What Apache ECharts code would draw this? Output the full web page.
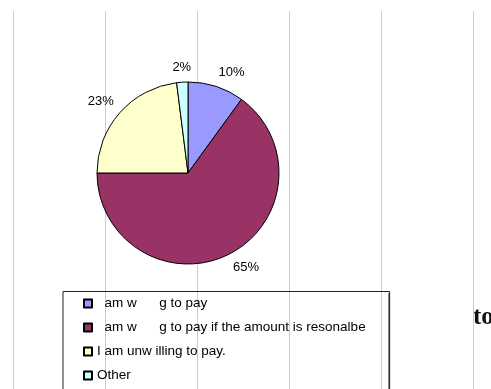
<!DOCTYPE html>
<html>
<head>
<meta charset="utf-8">
<script src="https://cdn.jsdelivr.net/npm/echarts@6/dist/echarts.min.js"></script>
<style>
  html, body { margin: 0; padding: 0; background: #fff; }
  #chart { width: 491px; height: 389px; }
</style>
</head>
<body>
<div id="chart"></div>
<script>
// Survey answers, shares in percent (clockwise from 12 o'clock)
const categories = [
  '  am w      g to pay',
  '  am w      g to pay if the amount is resonalbe',
  'I am unw illing to pay.',
  'Other'
];
const shares = [10, 65, 23, 2];
const sliceColors = ['#9999FF', '#993366', '#FFFFCC', '#CCFFFF'];

const FONT = '"Liberation Sans", Arial, sans-serif';
const CX = 188, CY = 173, R = 91;
const LABEL_R = R + 8;

// Mid angle of each slice, in radians measured clockwise from the top
const total = shares.reduce((a, b) => a + b, 0);
const midAngles = [];
let acc = 0;
shares.forEach(v => {
  midAngles.push(((acc + v / 2) / total) * Math.PI * 2);
  acc += v;
});

const chart = echarts.init(document.getElementById('chart'), null, { renderer: 'canvas' });

chart.setOption({
  animation: false,
  backgroundColor: '#ffffff',
  color: sliceColors,
  grid: { left: 13, right: 17.5, top: 11, bottom: 0 },
  xAxis: {
    type: 'value', min: 0, max: 5, interval: 1,
    axisLine: { show: false }, axisTick: { show: false }, axisLabel: { show: false },
    splitLine: { show: true, lineStyle: { color: '#cccccc', width: 1 } }
  },
  yAxis: { type: 'value', show: false },
  legend: {
    orient: 'vertical',
    left: 63, top: 291.5,
    height: 110,
    padding: [5, 24, 30, 20],
    itemGap: 10,
    itemWidth: 8, itemHeight: 8,
    itemTextGap: 5,
    icon: 'rect',
    borderColor: '#222222', borderWidth: 1,
    textStyle: { fontFamily: FONT, fontSize: 13.5, color: '#000', lineHeight: 14 },
    data: categories
  },
  series: [{
    type: 'pie',
    center: [CX, CY],
    radius: R,
    startAngle: 90,
    clockwise: true,
    avoidLabelOverlap: false,
    itemStyle: { borderColor: '#000', borderWidth: 1 },
    label: {
      show: true, position: 'outside',
      formatter: p => p.value + '%',
      fontFamily: FONT, fontSize: 13, color: '#000'
    },
    labelLine: { show: false },
    labelLayout: function (params) {
      const a = midAngles[params.dataIndex];
      const s = Math.sin(a), c = Math.cos(a);
      return {
        x: CX + LABEL_R * s,
        y: CY - LABEL_R * c,
        align: s > 0.2 ? 'left' : (s < -0.2 ? 'right' : 'center'),
        verticalAlign: c > 0 ? 'bottom' : 'top'
      };
    },
    emphasis: { disabled: true },
    data: categories.map((name, i) => ({ name: name, value: shares[i] }))
  }],
  graphic: [
    {
      type: 'rect', silent: true,
      shape: { x: 388, y: 293, width: 2, height: 100 },
      style: { fill: '#888888' }
    },
    {
      type: 'text', silent: true, left: 473, top: 305,
      style: {
        text: 'to', fill: '#111',
        font: 'bold 25px "Liberation Serif", "Times New Roman", serif'
      }
    }
  ]
});
</script>
</body>
</html>
